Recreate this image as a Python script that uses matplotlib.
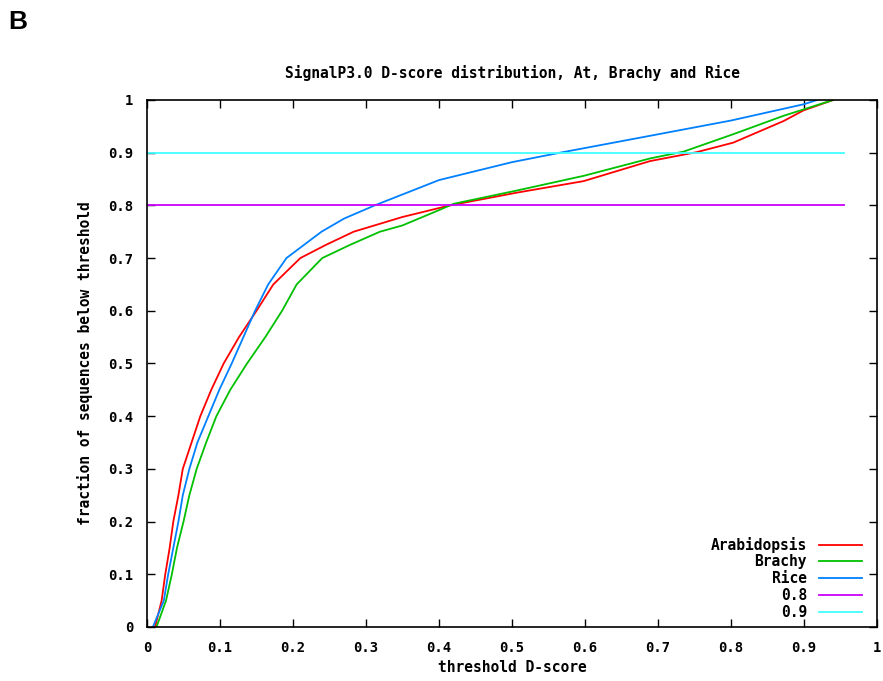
import numpy as np
import matplotlib
matplotlib.use("Agg")
import matplotlib.pyplot as plt

arab_x = [0.011, 0.020, 0.025, 0.031, 0.036, 0.043, 0.049, 0.061, 0.073, 0.088, 0.105,
          0.126, 0.150, 0.173, 0.210, 0.245, 0.283, 0.350, 0.415, 0.506, 0.598,
          0.689, 0.753, 0.803, 0.872, 0.899, 0.940]
arab_y = [0.0, 0.05, 0.1, 0.15, 0.2, 0.25, 0.3, 0.35, 0.4, 0.45, 0.5,
          0.55, 0.6, 0.65, 0.7, 0.725, 0.75, 0.778, 0.800, 0.824, 0.846,
          0.884, 0.901, 0.919, 0.960, 0.980, 1.0]

brachy_x = [0.013, 0.026, 0.034, 0.041, 0.050, 0.058, 0.068, 0.081, 0.095, 0.114, 0.137,
            0.162, 0.185, 0.205, 0.240, 0.278, 0.319, 0.350, 0.400, 0.420, 0.506,
            0.598, 0.689, 0.735, 0.803, 0.872, 0.940]
brachy_y = [0.0, 0.05, 0.1, 0.15, 0.2, 0.25, 0.3, 0.35, 0.4, 0.45, 0.5,
            0.55, 0.6, 0.65, 0.7, 0.725, 0.75, 0.762, 0.791, 0.803, 0.828,
            0.856, 0.889, 0.902, 0.935, 0.970, 1.0]

rice_x = [0.008, 0.023, 0.029, 0.036, 0.043, 0.049, 0.058, 0.069, 0.084, 0.099, 0.116,
          0.132, 0.148, 0.166, 0.191, 0.239, 0.270, 0.312, 0.400, 0.500, 0.566,
          0.689, 0.800, 0.900, 0.918]
rice_y = [0.0, 0.05, 0.1, 0.15, 0.2, 0.25, 0.3, 0.35, 0.4, 0.45, 0.5,
          0.55, 0.6, 0.65, 0.7, 0.75, 0.775, 0.8, 0.848, 0.882, 0.900,
          0.932, 0.961, 0.992, 1.0]

ref_x = [0.0, 0.955]
ref_08 = [0.8, 0.8]
ref_09 = [0.9, 0.9]

x_ticks = [0, 0.1, 0.2, 0.3, 0.4, 0.5, 0.6, 0.7, 0.8, 0.9, 1]
x_labels = ["0", "0.1", "0.2", "0.3", "0.4", "0.5", "0.6", "0.7", "0.8", "0.9", "1"]
y_ticks = [0, 0.1, 0.2, 0.3, 0.4, 0.5, 0.6, 0.7, 0.8, 0.9, 1]
y_labels = ["0", "0.1", "0.2", "0.3", "0.4", "0.5", "0.6", "0.7", "0.8", "0.9", "1"]

mono = "DejaVu Sans Mono"

fig = plt.figure(figsize=(8.83, 6.81), dpi=100)
ax = fig.add_axes([0.1665, 0.0793, 0.8267, 0.7739])

ax.plot(arab_x, arab_y, color="#ff0000", lw=1.3, label="Arabidopsis")
ax.plot(brachy_x, brachy_y, color="#00c000", lw=1.3, label="Brachy")
ax.plot(rice_x, rice_y, color="#0080ff", lw=1.3, label="Rice")
ax.plot(ref_x, ref_08, color="#cc00ff", lw=1.3, label="0.8")
ax.plot(ref_x, ref_09, color="#40ffff", lw=1.3, label="0.9")

ax.set_xlim(0, 1)
ax.set_ylim(0, 1)
ax.set_xticks(x_ticks)
ax.set_xticklabels(x_labels)
ax.set_yticks(y_ticks)
ax.set_yticklabels(y_labels)
ax.tick_params(direction="in", length=6, width=1, top=True, right=True, pad=10)
for lab in ax.get_xticklabels() + ax.get_yticklabels():
    lab.set_fontfamily(mono)
    lab.set_fontweight("bold")
    lab.set_fontsize(10)
for s in ax.spines.values():
    s.set_linewidth(1.2)

ax.set_title("SignalP3.0 D-score distribution, At, Brachy and Rice",
             family=mono, weight="bold", fontsize=10.5, pad=16)
ax.set_xlabel("threshold D-score", family=mono, weight="bold", fontsize=10.5, labelpad=4)
ax.set_ylabel("fraction of sequences below threshold", family=mono, weight="bold",
              fontsize=10.5, labelpad=11)

leg = ax.legend(loc="lower right", frameon=False, markerfirst=False,
                prop={"family": mono, "weight": "bold", "size": 10.5},
                handlelength=3.0, handletextpad=0.8, labelspacing=0.12,
                borderaxespad=0.1, bbox_to_anchor=(0.99, 0.0))

fig.text(0.009, 0.986, "B", family="Liberation Sans", weight="bold", fontsize=19,
         va="top", ha="left")

fig.savefig("out.png", dpi=100)
